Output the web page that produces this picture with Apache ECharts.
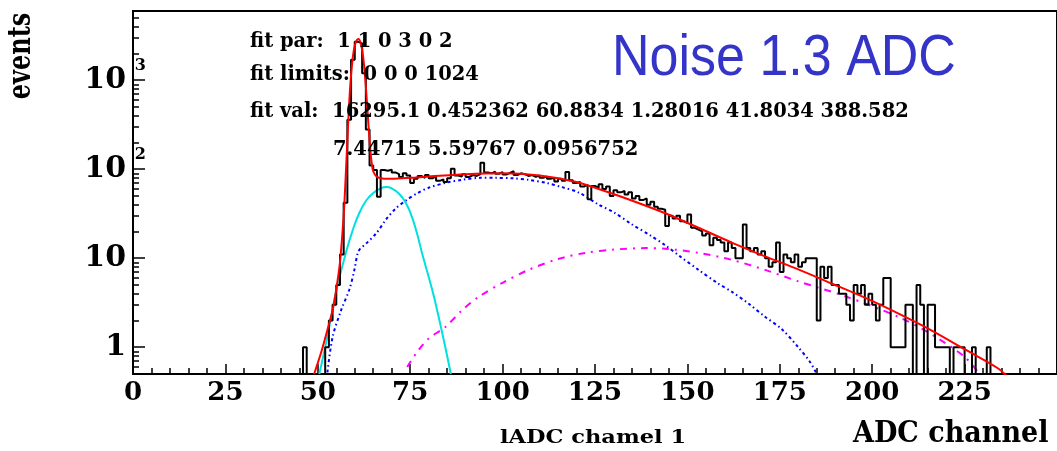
<!DOCTYPE html>
<html><head><meta charset="utf-8">
<script src="https://cdn.jsdelivr.net/npm/echarts@6/dist/echarts.min.js"></script>
<style>html,body{margin:0;padding:0;background:#fff}#c{width:1057px;height:451px}</style>
</head><body><div id="c"></div>
<script>
// ---- data ----
const xTickLabels = ['0','25','50','75','100','125','150','175','200','225'];
const yMajorTicks = [1, 10, 100, 1000];
const yMinorTicks = [0.6,0.7,0.8,0.9,2,3,4,5,6,7,8,9,20,30,40,50,60,70,80,90,200,300,400,500,600,700,800,900,2000,3000,4000,5000];
const histFirstBin = 44;           // left edge of first bin (bin width 1)
const histCounts = [
  0,0,1,0,0,0,0,0,1,2,3,5,11,42,360,1700,2700,2600,1200,280,110,98,49,   // 44-66
  98,96,99,92,88,82,90,85,70,78,84,80,86,79,83,74,77,72,79,101,          // 67-86
  85,83,88,82,86,84,88,118,92,90,94,89,93,87,91,95,86,90,88,84,          // 87-106
  86,82,85,80,83,78,80,73,78,74,93,75,70,72,64,67,46,65,62,68,           // 107-126
  60,64,50,58,55,57,52,55,47,50,45,47,40,43,38,36,35,23,30,28,           // 127-146
  30,26,25,31,22,21,20,18,19,14,17,16,15,12,15,13,10,10,24,13,           // 147-166
  12,13,11,12,10,8,9,15,7,11,10,9,11,8,9,10,10,10,2,8,                   // 167-186
  6,8,5,5,4,4,3,2,5,4,5,3,4,3,2,3,6,6,1,1,                               // 187-206
  1,1,3,3,0,5,3,0,3,3,1,1,1,1,0,1,1,1,0,0,1,0,0,0,1,0                    // 207-232
];
const redFitX = [49,51,53,54,55,56,57,57.5,58,58.5,59,59.5,60,60.5,61,61.5,62,62.5,63,63.5,64,64.5,65,66,68,70,75,80,90,100,110,120,126,134,144,153,162,171,180,189,198,207,216,225,234,237];
const redFitY = [0.5,0.9,1.8,2.6,4.5,9,30,75,210,560,1150,1850,2450,2800,2900,2700,2200,1500,850,420,210,125,95,82,78,78,80,83,88,90,85,72,60,46,32,22,15,10.5,7.5,5.2,3.6,2.4,1.55,0.95,0.58,0.45];
const cyanFitX = [50.4,51.5,53,55,57.6,59.5,61.2,63,65,67,68.5,70,72,73.8,75.5,77,78.3,80,81.5,82.8,84.5,86];
const cyanFitY = [0.5,0.8,1.6,4.3,11.5,21,32,44,54,61,63,61,53,42,29,18,11,6.2,3.6,2.1,1.0,0.5];
const blueFitX = [52.6,54,56.3,58.5,59.9,60.8,61.5,63,65.8,68.4,71,74,77,80,85,89,94,98,103,107,112,116,120.5,126,130,135,140,144,148,153,158,162,166.5,171,175.5,180,183,185];
const blueFitY = [0.52,1.3,2.6,4.4,7.4,11.5,12.8,14.5,19,27,36,45,54,62,71,76,80,80,79,76,70,63,55,40,33,24,18,14,10.5,7.4,5.3,4.2,3.1,2.2,1.6,1.0,0.7,0.5];
const magFitX = [74.2,77,80,84.6,89,93.6,100,107,115,122.5,130,138.6,144,153,162,171,180,193,207,216,225,229];
const magFitY = [0.6,0.9,1.25,1.7,2.6,3.7,5.3,7.4,9.8,11.5,12.5,13,12.8,11.5,9.6,7.4,5.5,3.7,2.2,1.4,0.78,0.5];
const fitLines = ['fit par:  1 1 0 3 0 2', 'fit limits:  0 0 0 1024',
  'fit val:  16295.1 0.452362 60.8834 1.28016 41.8034 388.582', '7.44715 5.59767 0.0956752'];

// ---- build ----
const FLOOR = 0.2;
const histData = [];
histCounts.forEach((c, i) => histData.push([histFirstBin + i, c > 0 ? c : FLOOR]));
histData.push([histFirstBin + histCounts.length, FLOOR]);
const pairs = (xs, ys) => xs.map((x, i) => [x, ys[i]]);

const SERIF = 'DejaVu Serif';
const chart = echarts.init(document.getElementById('c'), null, {renderer: 'canvas'});
const yLabel = v => {
  if (v === 1) return '{b|1}{sp|}';
  if (v === 10) return '{b|10}{sp|}';
  if (v === 100) return '{b|10}{s|2}';
  if (v === 1000) return '{b|10}{s|3}';
  return '';
};
const fitFont = 'bold 19.5px "DejaVu Serif"';
chart.setOption({
  animation: false,
  backgroundColor: '#fff',
  grid: {left: 133, right: -3, top: 11, bottom: 77, show: true, borderColor: '#000', borderWidth: 2},
  xAxis: {
    type: 'value', min: 0, max: 250, interval: 25,
    axisLine: {lineStyle: {color: '#000', width: 2}},
    axisTick: {inside: true, length: 10, lineStyle: {color: '#000', width: 1.5}},
    minorTick: {show: true, splitNumber: 5, length: 6, lineStyle: {color: '#000', width: 1.5}},
    splitLine: {show: false},
    axisLabel: {margin: 6, color: '#000', fontFamily: SERIF, fontWeight: 'bold', fontSize: 26,
      showMaxLabel: false, formatter: v => xTickLabels[v / 25] || ''}
  },
  yAxis: [{
    type: 'log', logBase: 10, min: 0.5, max: 6000,
    axisLine: {lineStyle: {color: '#000', width: 2}},
    axisTick: {inside: true, length: 12, customValues: yMajorTicks, lineStyle: {color: '#000', width: 1.5}},
    splitLine: {show: false},
    axisLabel: {customValues: yMajorTicks, margin: -13, formatter: yLabel,
      rich: {
        b: {fontFamily: SERIF, fontWeight: 'bold', fontSize: 30, color: '#000', lineHeight: 30},
        s: {fontFamily: SERIF, fontWeight: 'bold', fontSize: 16, color: '#000', lineHeight: 16, width: 10, padding: [0, 0, 28, 10]},
        sp: {width: 20}
      }}
  }, {
    type: 'log', logBase: 10, min: 0.5, max: 6000, position: 'left',
    axisLine: {show: false},
    axisTick: {inside: true, length: 6, customValues: yMinorTicks, lineStyle: {color: '#000', width: 1.5}},
    axisLabel: {show: false}, splitLine: {show: false}
  }],
  series: [
    {type: 'line', data: pairs(magFitX, magFitY), showSymbol: false, smooth: 0.3,
      lineStyle: {color: '#ff00ff', width: 2, type: [7, 6, 2, 6]}, z: 3},
    {type: 'line', data: pairs(blueFitX, blueFitY), showSymbol: false, smooth: 0.3,
      lineStyle: {color: '#0000ff', width: 2, type: [3, 3, 1.5, 3]}, z: 3},
    {type: 'line', data: pairs(cyanFitX, cyanFitY), showSymbol: false, smooth: 0.3,
      lineStyle: {color: '#00e0e0', width: 2}, z: 3},
    {type: 'line', data: histData, step: 'end', showSymbol: false,
      lineStyle: {color: '#000', width: 2}, z: 4},
    {type: 'line', data: pairs(redFitX, redFitY), showSymbol: false, smooth: 0.3,
      lineStyle: {color: '#ff0000', width: 2}, z: 5}
  ],
  graphic: [
    {type: 'text', x: 250, y: 31, style: {text: fitLines[0], font: fitFont, fill: '#000'}, scaleY: 1.08, z: 10},
    {type: 'text', x: 250, y: 64, style: {text: fitLines[1], font: fitFont, fill: '#000'}, scaleY: 1.08, z: 10},
    {type: 'text', x: 250, y: 101, style: {text: fitLines[2], font: fitFont, fill: '#000'}, scaleY: 1.08, z: 10},
    {type: 'text', x: 333, y: 139, style: {text: fitLines[3], font: fitFont, fill: '#000'}, scaleY: 1.08, z: 10},
    {type: 'text', x: 612, y: 31, style: {text: 'Noise 1.3 ADC', font: '52px "Liberation Sans"', fill: '#3434c8'}, scaleY: 1.1, z: 10},
    {type: 'text', x: 22, y: 56, rotation: Math.PI / 2, style: {text: 'events', font: 'bold 24px "DejaVu Serif"', fill: '#000', align: 'center', verticalAlign: 'middle'}, scaleY: 1.3, z: 10},
    {type: 'text', x: 853, y: 419, style: {text: 'ADC channel', font: 'bold 27px "DejaVu Serif"', fill: '#000'}, scaleY: 1.12, z: 10},
    {type: 'text', x: 500, y: 428, style: {text: 'lADC chamel 1', font: 'bold 22.5px "DejaVu Serif"', fill: '#000'}, scaleY: 0.85, z: 10}
  ]
});
</script></body></html>
